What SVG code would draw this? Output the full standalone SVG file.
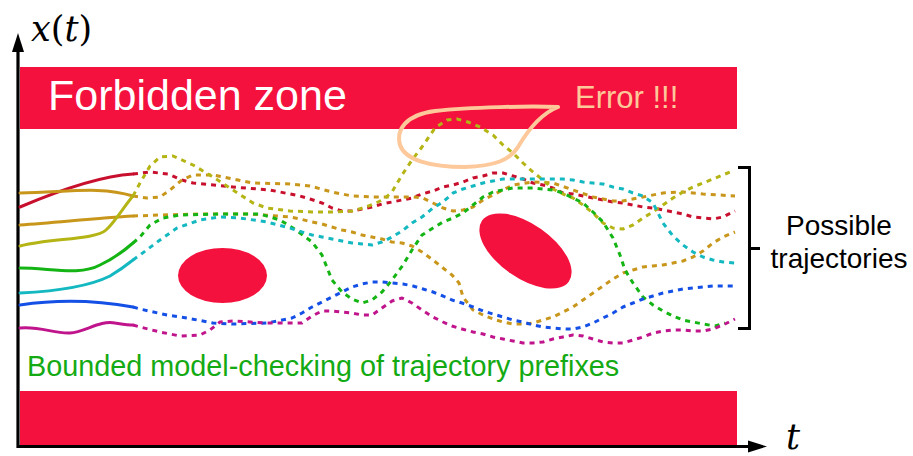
<svg xmlns="http://www.w3.org/2000/svg" width="913" height="456" viewBox="0 0 913 456">
<defs>
<style>
.zone{fill:#f4113d}
.sol{fill:none;stroke-width:3;stroke-linecap:round;stroke-linejoin:round}
.dash{fill:none;stroke-width:3;stroke-dasharray:5 5;stroke-linejoin:round}
.red{stroke:#c8102e}.gold{stroke:#c8961a}.olive{stroke:#b4b414}.green{stroke:#14b414}.cyan{stroke:#14b8c0}.blue{stroke:#1450e6}.mag{stroke:#c0148c}
.sans{font-family:"Liberation Sans",Arial,sans-serif}
.math{font-family:"DejaVu Serif","Liberation Serif",serif;font-size:35px;fill:#000}
.axis{stroke:#000;stroke-width:3.2;fill:none}
</style>
</defs>
<rect width="913" height="456" fill="#fff"/>
<g id="zones">
<rect class="zone" x="20" y="67" width="717" height="62"/>
<rect class="zone" x="20" y="391" width="717" height="55"/>
<ellipse class="zone" cx="222.5" cy="275.5" rx="44.5" ry="27.5"/>
<ellipse class="zone" cx="525.5" cy="251" rx="53" ry="27" transform="rotate(35 525.5 251)"/>
</g>
<g id="axes">
<line class="axis" x1="18" y1="448" x2="18" y2="48"/>
<polygon points="18,33 12,52 24,52" fill="#000"/>
<line class="axis" x1="17" y1="446.5" x2="752" y2="446.5"/>
<polygon points="767,446.5 748,440.5 748,452.5" fill="#000"/>
<text class="math" x="31" y="41"><tspan font-style="italic">x</tspan>(<tspan font-style="italic">t</tspan>)</text>
<text class="math" x="786" y="449" font-size="33" font-style="italic">t</text>
</g>
<g id="trajectories">
<path class="sol red" d="M20,207 C60,190 100,176 133,174"/>
<path class="sol gold" d="M20,193 C70,192 100,186 133,196"/>
<path class="sol gold" d="M20,225 C60,222 100,218 133,216"/>
<path class="sol olive" d="M20,246 C50,238 95,240 106,230 C115,222 125,205 133,196"/>
<path class="sol green" d="M20,268 C50,268 80,276 100,265 C115,258 125,250 133,243"/>
<path class="sol cyan" d="M20,293 C60,291 90,286 110,276 C120,270 128,264 133,260"/>
<path class="sol blue" d="M20,305 C60,299 100,301 133,307"/>
<path class="sol mag" d="M20,328 C40,326 55,334 70,333 C85,332 100,320 115,323 C122,324 128,325 133,325"/>

<path class="dash red" d="M133,174 L150,172 168,174 182,180 193,183 233,187 270,190 290,194 300,196 310,199 322,203 332,208 342,211 352,211 362,209 372,207 382,204 392,202 402,200 412,198 422,194 433,191 443,187 453,185 463,182 473,178 483,176 493,173 503,173 513,176 523,179 533,183 543,185 553,188 563,193 573,194 583,196 593,198 603,200 613,202 623,203 633,205 643,207 653,208 663,210 673,212 683,214 693,217 703,218 713,219 723,217 735,211"/>
<path class="dash gold" d="M133,196 L147,198 160,197 170,190 182,180 193,175 213,175 233,179 253,183 290,184 310,186 332,192 352,196 373,197 413,197 423,198 433,203 443,208 453,211 463,210 473,207 483,200 493,195 513,185 533,182 553,183 573,190 593,197 613,201 623,201 643,197 663,193 683,192 703,194 735,196"/>
<path class="dash gold" d="M133,216 L160,215 200,214 250,214 290,217 300,219 312,222 322,224 332,227 342,230 352,232 362,235 372,237 382,239 392,242 402,243 412,246 422,252 433,260 443,268 452,275 459,283 463,297 473,310 483,315 493,319 503,322 513,324 523,324 533,323 543,320 553,317 563,312 573,307 583,300 593,293 603,286 613,279 623,273 633,270 643,267 653,266 663,265 673,263 683,261 693,257 703,251 713,243 723,237 735,232"/>
<path class="dash olive" d="M133,196 L140,183 150,166 160,157 173,156 193,165 213,177 233,190 253,203 267,208 290,211 312,212 332,212 352,211 366,207 376,203 384,199 392,192 402,175 412,160 422,147 435,128 447,120 457,119 468,122 480,127 493,135 503,145 513,153 523,163 533,172 543,180 553,189 563,194 573,198 583,205 593,213 603,223 613,228 623,229 633,225 643,218 653,212 663,205 673,198 683,192 693,187 703,183 713,179 730,172"/>
<path class="dash green" d="M133,243 L140,237 150,225 163,218 180,215 220,214 260,214 280,220 293,228 300,233 312,242 322,255 332,280 342,292 352,299 362,303 372,300 382,292 392,280 403,265 412,250 422,235 433,228 443,222 453,218 463,213 473,205 483,197 493,192 513,188 533,188 553,190 563,193 573,198 583,203 593,212 603,222 613,238 620,255 625,270 633,283 643,297 653,305 663,311 673,316 683,320 693,322 703,324 715,326 725,323"/>
<path class="dash cyan" d="M133,260 L140,255 160,240 177,228 200,220 220,217 240,218 267,222 290,228 302,232 312,235 322,237 332,239 342,241 352,243 362,244 372,245 382,242 392,237 402,231 412,223 422,217 433,208 443,202 453,193 463,189 473,186 483,183 493,181 503,179 523,179 543,179 563,179 573,180 583,182 593,183 603,184 613,187 623,189 633,193 643,196 653,203 663,223 673,236 683,245 693,252 703,257 713,260 723,262 735,263"/>
<path class="dash blue" d="M133,307 L140,309 167,315 187,318 213,323 233,324 267,323 292,318 302,313 312,307 322,302 332,297 342,292 352,287 362,284 372,282 382,282 392,283 403,284 413,286 423,289 433,292 443,296 452,300 462,303 473,307 483,311 493,314 503,317 513,320 523,322 533,325 543,327 553,328 563,329 573,329 583,327 593,323 603,318 613,313 623,307 633,303 643,299 653,296 663,293 673,291 683,289 693,288 703,287 713,286 735,286"/>
<path class="dash mag" d="M133,325 L140,327 160,332 180,336 200,335 210,330 220,322 233,321 267,323 290,323 302,323 312,316 322,311 332,311 342,312 352,313 362,315 372,315 382,308 392,301 402,298 412,303 422,310 433,317 443,322 452,326 462,329 473,332 483,334 493,337 503,339 513,341 523,343 533,343 543,342 553,339 563,337 573,335 583,336 593,339 603,342 613,343 623,343 633,340 643,337 653,333 663,331 673,330 683,330 693,331 703,331 713,329 723,325 735,319"/>
</g>
<g id="error">
<path d="M558,107 C530,106 470,107 435,111 C405,115 396,130 400,145 C405,160 430,167 465,167 C495,166 510,160 518,147 C528,130 540,114 558,107 Z" fill="none" stroke="#fdc89a" stroke-width="4" stroke-linejoin="round"/>
<text class="sans" x="575" y="108" font-size="31" fill="#fdc89a">Error !!!</text>
</g>
<g id="labels">
<text class="sans" x="48" y="110" font-size="43" fill="#fff">Forbidden zone</text>
<text class="sans" x="27" y="376" font-size="28.8" fill="#14aa14">Bounded model-checking of trajectory prefixes</text>
<path d="M738,167.5 H749.5 V328.5 H738 M749.5,248.5 H760" fill="none" stroke="#000" stroke-width="3"/>
<text class="sans" x="839" y="235" font-size="28" text-anchor="middle" fill="#000">Possible</text>
<text class="sans" x="839" y="268" font-size="28" text-anchor="middle" fill="#000">trajectories</text>
</g>
</svg>
